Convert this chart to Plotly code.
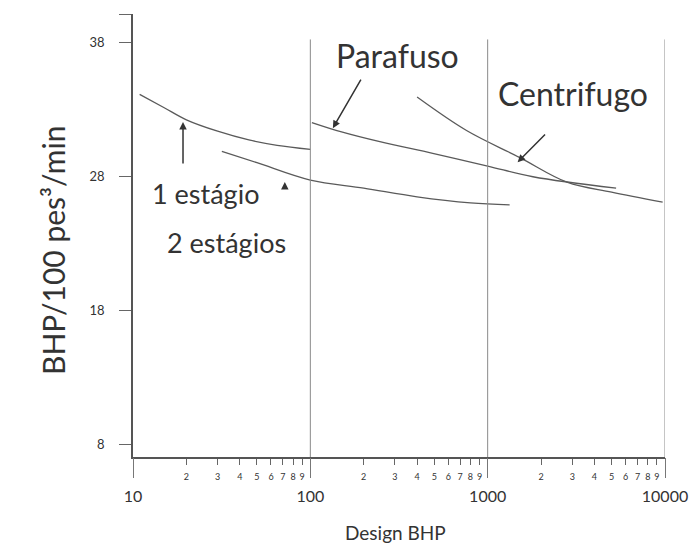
import plotly.graph_objects as go

# ---- data ----
one_stage_bhp = [10.9, 15, 20, 30, 45, 65, 100]
one_stage_val = [34.1, 33.1, 32.2, 31.35, 30.7, 30.3, 30.0]

two_stage_bhp = [31.7, 50, 100, 200, 400, 800, 1330]
two_stage_val = [29.85, 29.0, 27.7, 27.1, 26.45, 26.0, 25.85]

screw_bhp = [102, 150, 250, 490, 1000, 1800, 5300]
screw_val = [32.0, 31.3, 30.55, 29.7, 28.75, 27.95, 27.1]

centrif_bhp = [400, 760, 1510, 2800, 5000, 9700]
centrif_val = [33.9, 31.4, 29.4, 27.55, 26.8, 26.05]

divider_bhp = [100, 1000, 10000]
divider_top = 38.2

y_ticks = [8, 18, 28, 38]
decades = [10, 100, 1000, 10000]
digits = [2, 3, 4, 5, 6, 7, 8, 9]

LINE = "#5a5a5a"
TXT = "#333333"
FONT = "Lato"

fig = go.Figure()

for xs, ys in [(one_stage_bhp, one_stage_val), (two_stage_bhp, two_stage_val),
               (screw_bhp, screw_val), (centrif_bhp, centrif_val)]:
    fig.add_trace(go.Scatter(x=xs, y=ys, mode="lines", line=dict(color=LINE, width=1.3, shape="spline"),
                             showlegend=False, hoverinfo="skip"))

y_min, y_max = 7.03, 40.1
for d in divider_bhp:
    fig.add_trace(go.Scatter(x=[d, d], y=[y_min, divider_top], mode="lines",
                             line=dict(color="#8a8a8a", width=1), showlegend=False, hoverinfo="skip"))

# minor tick values/labels (2..9 within each decade)
minor_vals, minor_text = [], []
for dec in decades[:-1]:
    for dg in digits:
        minor_vals.append(dec * dg); minor_text.append(str(dg))

# dummy trace for xaxis2
fig.add_trace(go.Scatter(x=[decades[0]], y=[y_min], xaxis="x2", mode="markers",
                         marker=dict(opacity=0), showlegend=False, hoverinfo="skip"))

fig.update_layout(
    width=691, height=544,
    margin=dict(l=133, r=26, t=14, b=87),
    paper_bgcolor="white", plot_bgcolor="white",
    font=dict(family=FONT, color=TXT),
    xaxis=dict(type="log", range=[1, 4], tickvals=minor_vals, ticktext=minor_text,
               ticks="outside", ticklen=6, tickcolor="#666", tickwidth=1, automargin=False,
               ticklabelstandoff=4,
               tickfont=dict(size=9, color=TXT), showgrid=False, zeroline=False,
               showline=True, linecolor="#555", linewidth=1.5),
    xaxis2=dict(type="log", range=[1, 4], overlaying="x", anchor="y", side="bottom",
                tickvals=decades, ticktext=[str(d) for d in decades],
                ticks="outside", ticklen=20, tickcolor="#777", tickwidth=1, automargin=False,
                ticklabelstandoff=5, tickfont=dict(size=16, color=TXT),
                showgrid=False, zeroline=False, showline=False),
    yaxis=dict(range=[y_min, y_max], tickvals=y_ticks + [y_max], ticktext=[str(v) for v in y_ticks] + [""],
               ticks="outside", ticklen=12, tickcolor="#666", tickwidth=1, automargin=False,
               ticklabelstandoff=12,
               tickfont=dict(size=13, color=TXT), showgrid=False, zeroline=False,
               showline=True, linecolor="#555", linewidth=1.5),
)

# axis titles
fig.add_annotation(xref="paper", yref="paper", x=(395 - 133) / 532, y=(457 - 532) / 443,
                   text="Design BHP", showarrow=False, font=dict(size=19, color=TXT, family=FONT),
                   xanchor="center", yanchor="middle")
fig.add_annotation(xref="paper", yref="paper", x=(53 - 133) / 532, y=(457 - 251) / 443,
                   text="BHP/100 pes³/min", textangle=-90, showarrow=False,
                   font=dict(size=30, color=TXT, family=FONT), xanchor="center", yanchor="middle")

def arrow(x, y, ax, ay, size=1.0):
    fig.add_annotation(x=x, y=y, ax=ax, ay=ay, xref="x", yref="y", axref="x", ayref="y",
                       text="", showarrow=True, arrowhead=2, arrowsize=size, arrowwidth=1.5,
                       arrowcolor="#333")

arrow(2.127, 31.58, 2.290, 35.31)
arrow(3.169, 29.04, 3.332, 31.21)
arrow(1.282, 32.03, 1.282, 28.82)
arrow(1.856, 27.55, 1.856, 27.2)

def label(x, y, text, size):
    fig.add_annotation(x=x, y=y, xref="x", yref="y", text=text, showarrow=False,
                       font=dict(size=size, color=TXT, family=FONT))

label(2.493, 37.03, "Parafuso", 32)
label(3.479, 34.19, "Centrifugo", 32)
label(1.411, 26.73, "1 estágio", 27)
label(1.530, 23.07, "2 estágios", 27)

fig.write_html("out.html")
